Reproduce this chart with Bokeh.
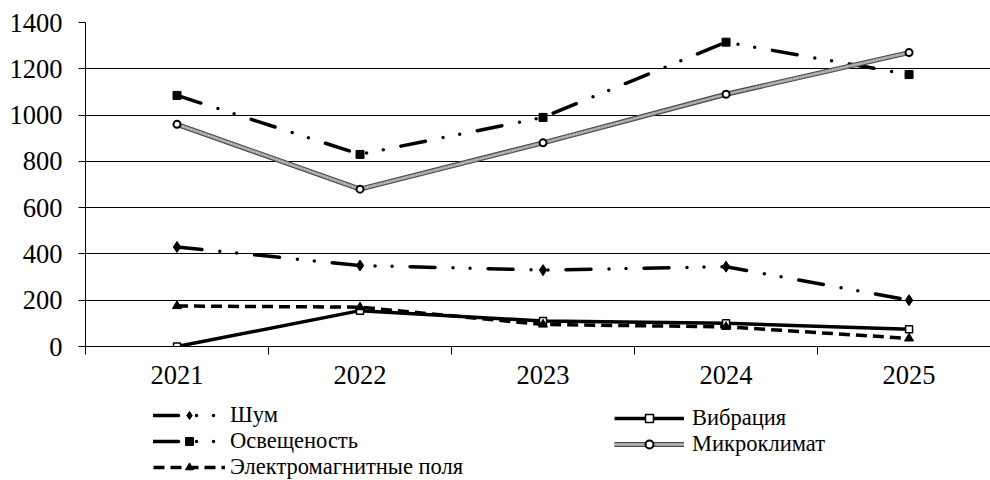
from bokeh.plotting import figure
from bokeh.layouts import column
from bokeh.models import Range1d, FixedTicker, Legend, LegendItem
from bokeh.embed import file_html
from bokeh.resources import INLINE

# Measurements by year
years = ["2021", "2022", "2023", "2024", "2025"]
noise = [430, 350, 330, 345, 200]            # Шум
vibration = [0, 155, 110, 100, 75]           # Вибрация
lighting = [1085, 830, 990, 1315, 1175]      # Освещеность
microclimate = [960, 680, 880, 1090, 1270]   # Микроклимат
emf = [175, 170, 95, 85, 35]                 # Электромагнитные поля
y_ticks = [0, 200, 400, 600, 800, 1000, 1200, 1400]

x = list(range(1, len(years) + 1))
FONT = "Liberation Serif"
DASHDOT = "25 18 0 17 0 18"
LW = 3.5
NAN = [float("nan")]

# series styles shared by the chart and the legend strip
STYLES = {
    "noise": dict(line=[dict(line_color="black", line_width=LW, line_dash=DASHDOT, line_cap="round")],
                  marker=dict(marker="diamond", size=11, fill_color="black", line_color="black")),
    "vibration": dict(line=[dict(line_color="black", line_width=LW)],
                      marker=dict(marker="square", size=7, fill_color="white", line_color="black", line_width=1.5)),
    "lighting": dict(line=[dict(line_color="black", line_width=LW, line_dash=DASHDOT, line_cap="round")],
                     marker=dict(marker="square", size=8, fill_color="black", line_color="black")),
    "microclimate": dict(line=[dict(line_color="#4a4a4a", line_width=5),
                               dict(line_color="#a0a0a0", line_width=2.8),
                               dict(line_color="#dcdcdc", line_width=1.2, line_dash="1 2")],
                         marker=dict(marker="circle", size=7, fill_color="white", line_color="black", line_width=2)),
    "emf": dict(line=[dict(line_color="black", line_width=LW, line_dash="11 6")],
                marker=dict(marker="triangle", size=9, fill_color="black", line_color="black")),
}


def draw(fig, key, xs, ys):
    st = STYLES[key]
    rs = [fig.line(xs, ys, **kw) for kw in st["line"]]
    rs.append(fig.scatter(xs, ys, **st["marker"]))
    return rs


p = figure(width=990, height=400, output_backend="svg", toolbar_location=None,
           x_range=Range1d(0.5, 5.445), y_range=Range1d(0, 1400),
           min_border_left=85, min_border_right=0, min_border_top=22,
           min_border_bottom=54)
p.outline_line_color = None
p.xgrid.grid_line_color = None
p.ygrid.grid_line_color = "black"
p.ygrid.grid_line_width = 1

# axes
p.xaxis.ticker = FixedTicker(ticks=x, minor_ticks=[v - 0.5 for v in x] + [len(x) + 0.5])
p.xaxis.major_label_overrides = {v: y for v, y in zip(x, years)}
p.xaxis.major_tick_line_color = None
p.xaxis.major_tick_out = 0
p.xaxis.major_tick_in = 0
p.xaxis.minor_tick_out = 8
p.xaxis.minor_tick_in = 0
p.xaxis.minor_tick_line_color = "black"
p.xaxis.major_label_standoff = 11

p.yaxis.ticker = FixedTicker(ticks=y_ticks)
p.yaxis.major_tick_out = 7
p.yaxis.major_tick_in = 0
p.yaxis.major_tick_line_color = "black"
p.yaxis.minor_tick_line_color = None
p.yaxis.major_label_standoff = 16

for ax in (p.xaxis, p.yaxis):
    ax.axis_line_color = "black"
    ax.major_label_text_font = FONT
    ax.major_label_text_font_size = "26.5px"
    ax.major_label_text_color = "black"

draw(p, "noise", x, noise)
draw(p, "vibration", x, vibration)
draw(p, "lighting", x, lighting)
draw(p, "microclimate", x, microclimate)
draw(p, "emf", x, emf)

# legend strip under the chart (its frame lines up with the chart frame)
lg = figure(width=990, height=80, output_backend="svg", toolbar_location=None,
            x_range=Range1d(0, 1), y_range=Range1d(0, 1),
            x_axis_location=None, y_axis_location=None, min_border=0)
lg.outline_line_color = None
lg.grid.grid_line_color = None

legend_style = dict(label_text_font=FONT, label_text_font_size="22.5px", label_text_color="black",
                    glyph_height=20, label_height=20, spacing=-2, padding=0, margin=0,
                    border_line_color=None, background_fill_alpha=0)

leg1 = Legend(items=[
    LegendItem(label="Шум", renderers=draw(lg, "noise", NAN, NAN)),
    LegendItem(label="Освещеность", renderers=draw(lg, "lighting", NAN, NAN)),
    LegendItem(label="Электромагнитные поля", renderers=draw(lg, "emf", NAN, NAN)),
], location=(68, 0), glyph_width=72, label_standoff=5, **legend_style)

leg2 = Legend(items=[
    LegendItem(label="Вибрация", renderers=draw(lg, "vibration", NAN, NAN)),
    LegendItem(label="Микроклимат", renderers=draw(lg, "microclimate", NAN, NAN)),
], location=(529, 23), glyph_width=70, label_standoff=8, **legend_style)

lg.add_layout(leg1, "center")
lg.add_layout(leg2, "center")

layout = column(p, lg, spacing=0)
open("out.html", "w").write(file_html(layout, INLINE))
